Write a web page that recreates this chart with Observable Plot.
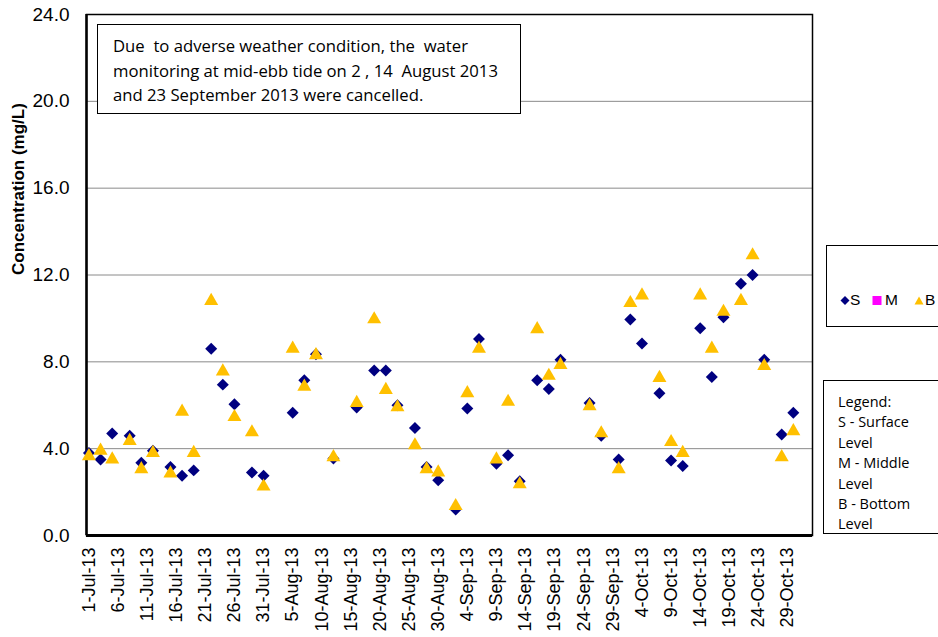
<!DOCTYPE html>
<html>
<head>
<meta charset="utf-8">
<script src="https://cdn.jsdelivr.net/npm/d3@7"></script>
<script src="https://cdn.jsdelivr.net/npm/@observablehq/plot@0.6"></script>
<style>
  html, body { margin: 0; padding: 0; background: #fff; }
  #wrap { position: relative; width: 938px; height: 637px; overflow: hidden; }
  .note { position: absolute; left: 97px; top: 24px; width: 424px; height: 90px; box-sizing: border-box;
          border: 1.3px solid #000; background: #fff; font-family: "Open Sans", sans-serif; font-size: 16.7px;
          line-height: 24.5px; padding: 9px 0 0 15px; white-space: pre; color: #000; }
  .leg1 { position: absolute; left: 826px; top: 245px; width: 140px; height: 82px; box-sizing: border-box;
          border: 1.5px solid #000; background: #fff; font-family: "Liberation Sans", Arial, sans-serif; font-size: 15.5px; }
  .leg1 .it { position: absolute; line-height: 16px; top: 46px; }
  .leg2 { position: absolute; left: 823px; top: 380px; width: 140px; height: 154px; box-sizing: border-box;
          border: 1.5px solid #000; background: #fff; font-family: "Open Sans", sans-serif; font-size: 14.5px;
          line-height: 20.4px; padding: 11px 0 0 14px; white-space: pre; color: #000; }
</style>
</head>
<body>
<div id="wrap"></div>
<script>
// ---- data ----
const dates = ["1-Jul-13","3-Jul-13","5-Jul-13","8-Jul-13","10-Jul-13","12-Jul-13","15-Jul-13","17-Jul-13","19-Jul-13","22-Jul-13",
  "24-Jul-13","26-Jul-13","29-Jul-13","31-Jul-13","5-Aug-13","7-Aug-13","9-Aug-13","12-Aug-13","16-Aug-13","19-Aug-13",
  "21-Aug-13","23-Aug-13","26-Aug-13","28-Aug-13","30-Aug-13","2-Sep-13","4-Sep-13","6-Sep-13","9-Sep-13","11-Sep-13",
  "13-Sep-13","16-Sep-13","18-Sep-13","20-Sep-13","25-Sep-13","27-Sep-13","30-Sep-13","2-Oct-13","4-Oct-13","7-Oct-13",
  "9-Oct-13","11-Oct-13","14-Oct-13","16-Oct-13","18-Oct-13","21-Oct-13","23-Oct-13","25-Oct-13","28-Oct-13","30-Oct-13"];
const surface = [3.8,3.5,4.7,4.6,3.35,3.9,3.15,2.75,3.0,8.6,
  6.95,6.05,2.9,2.75,5.65,7.15,8.35,3.55,5.9,7.6,
  7.6,6.0,4.95,3.15,2.55,1.2,5.85,9.05,3.3,3.7,
  2.5,7.15,6.75,8.1,6.1,4.6,3.5,9.95,8.85,6.55,
  3.45,3.2,9.55,7.3,10.05,11.6,12.0,8.1,4.65,5.65];
const bottom = [3.75,4.0,3.6,4.45,3.15,3.9,2.95,5.8,3.9,10.9,
  7.65,5.55,4.85,2.35,8.7,6.95,8.4,3.7,6.2,10.05,
  6.8,6.0,4.25,3.15,3.0,1.45,6.65,8.7,3.6,6.25,
  2.45,9.6,7.45,7.95,6.05,4.8,3.15,10.8,11.15,7.35,
  4.4,3.9,11.15,8.7,10.4,10.9,13.0,7.9,3.7,4.9];
const xTickLabels = ["1-Jul-13","6-Jul-13","11-Jul-13","16-Jul-13","21-Jul-13","26-Jul-13","31-Jul-13","5-Aug-13","10-Aug-13",
  "15-Aug-13","20-Aug-13","25-Aug-13","30-Aug-13","4-Sep-13","9-Sep-13","14-Sep-13","19-Sep-13","24-Sep-13","29-Sep-13",
  "4-Oct-13","9-Oct-13","14-Oct-13","19-Oct-13","24-Oct-13","29-Oct-13"];
const yTicks = [0,4,8,12,16,20,24];
const yGrid = [4,8,12,16,20];
const xDomainLabels = ["30-Jun-13 14","2-Nov-13 07"];
const yTitle = "Concentration (mg/L)";
const noteText = "Due  to adverse weather condition, the  water\nmonitoring at mid-ebb tide on 2 , 14  August 2013\nand 23 September 2013 were cancelled.";
const legendText = "Legend:\nS - Surface\nLevel\nM - Middle\nLevel\nB - Bottom\nLevel";
const seriesNames = ["S", "M", "B"];

// ---- build ----
const parse = d3.utcParse("%d-%b-%y");
const parseH = d3.utcParse("%d-%b-%y %H");
const rowsS = dates.map((d, i) => ({date: parse(d), value: surface[i], series: "S"}));
const rowsB = dates.map((d, i) => ({date: parse(d), value: bottom[i], series: "B"}));
const xDomain = xDomainLabels.map(parseH);
const xTicks = xTickLabels.map(parse);

const chart = Plot.plot({
  width: 938, height: 637,
  marginLeft: 86, marginRight: 126, marginTop: 14, marginBottom: 102,
  style: {fontFamily: "'Liberation Sans', Arial, sans-serif", background: "white"},
  x: {type: "utc", domain: xDomain},
  y: {domain: [0, 24]},
  marks: [
    Plot.gridY(yGrid, {stroke: "#8a8a8a", strokeOpacity: 1, strokeWidth: 1}),
    Plot.axisY({ticks: yTicks, tickFormat: ".1f", tickSize: 0, tickPadding: 17, fontSize: 19, label: null, fill: "#000"}),
    Plot.axisX({ticks: xTicks, tickFormat: d3.utcFormat("%-d-%b-%y"), tickRotate: -90, tickSize: 0, tickPadding: 12, fontSize: 18, label: null, fill: "#000"}),
    Plot.text([yTitle], {frameAnchor: "left", rotate: -90, dx: -68, fontWeight: "bold", fontSize: 17, fill: "#000"}),
    Plot.frame({stroke: "#000", strokeWidth: 1.5}),
    Plot.ruleY([0], {stroke: "#000", strokeWidth: 3}),
    Plot.ruleX([xDomain[0]], {stroke: "#000", strokeWidth: 2.5}),
    Plot.dot(rowsS, {x: "date", y: "value", symbol: "diamond2", r: 5.4, fill: "#000080", stroke: "none"}),
    Plot.dot(rowsB, {x: "date", y: "value", symbol: "triangle", r: 5.2, fill: "#FFC000", stroke: "none", dy: 2})
  ]
});

const wrap = document.getElementById("wrap");
wrap.appendChild(chart);

const note = document.createElement("div");
note.className = "note";
note.textContent = noteText;
wrap.appendChild(note);

const leg1 = document.createElement("div");
leg1.className = "leg1";
leg1.innerHTML = `
<svg class="it" style="left:12px;top:47px" width="12" height="14"><path d="M6,3 L10.5,7.5 L6,12 L1.5,7.5Z" fill="#000080"/></svg>
<span class="it" style="left:23px">${seriesNames[0]}</span>
<svg class="it" style="left:44px;top:47px" width="12" height="14"><rect x="1.5" y="3" width="9" height="9" fill="#FF00FF"/></svg>
<span class="it" style="left:58px">${seriesNames[1]}</span>
<svg class="it" style="left:86px;top:47px" width="12" height="14"><path d="M6,3.5 L10.5,11.5 L1.5,11.5Z" fill="#FFC000"/></svg>
<span class="it" style="left:98px">${seriesNames[2]}</span>`;
wrap.appendChild(leg1);

const leg2 = document.createElement("div");
leg2.className = "leg2";
leg2.textContent = legendText;
wrap.appendChild(leg2);
</script>
</body>
</html>
